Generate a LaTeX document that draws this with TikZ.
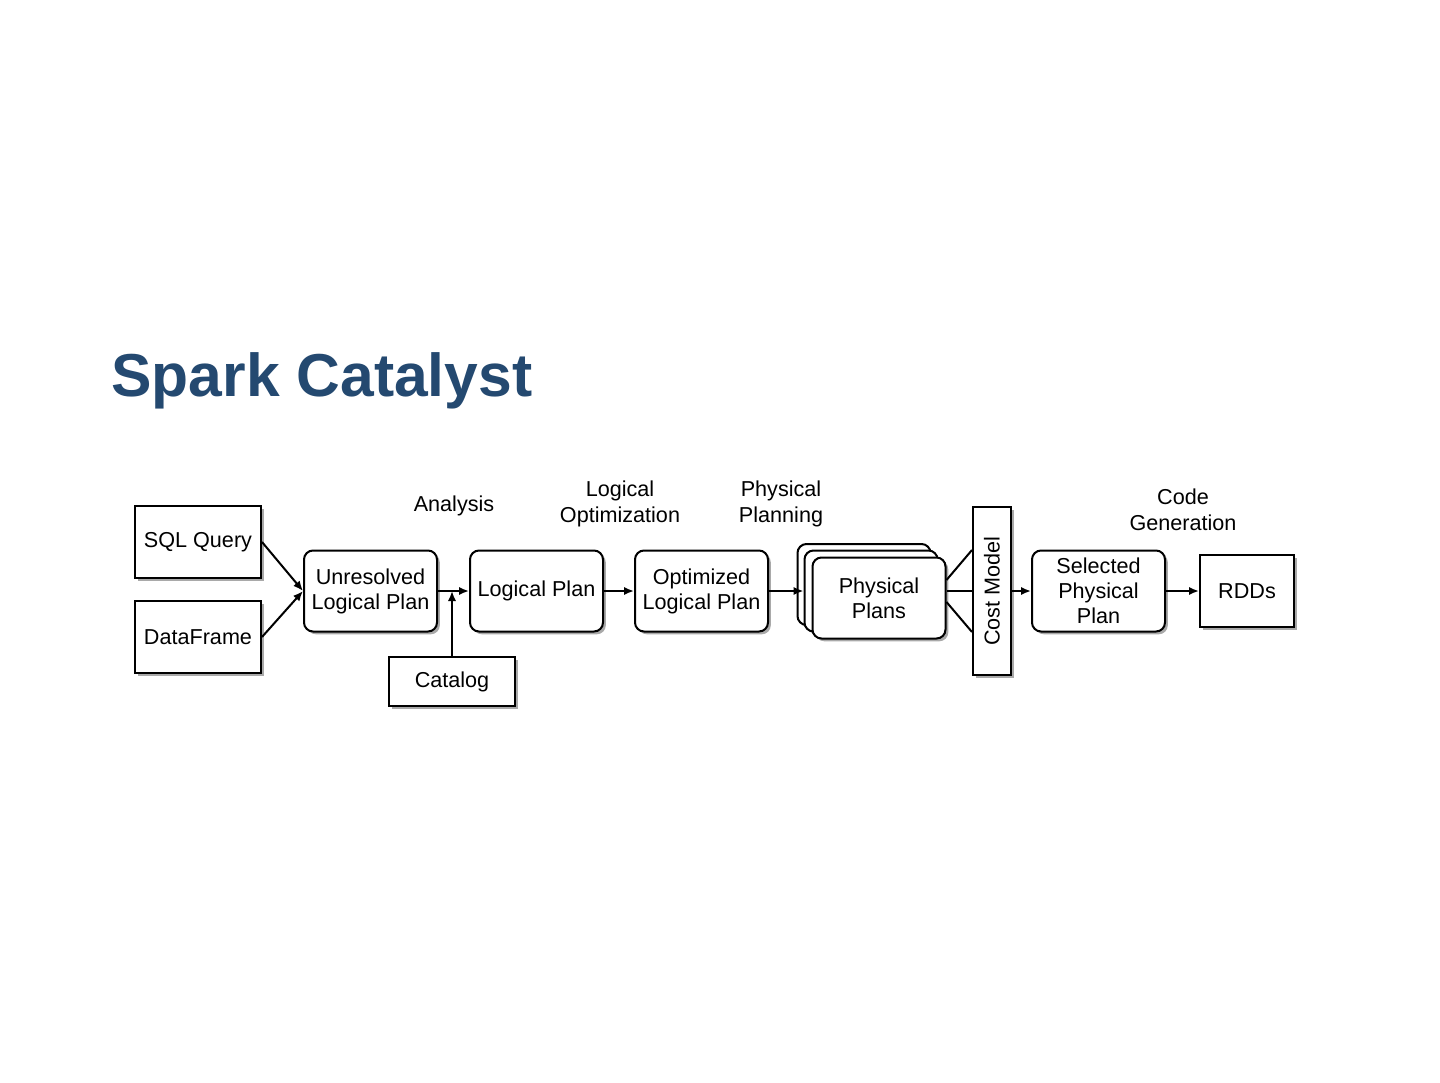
\documentclass[tikz,border=0pt]{standalone}
\usepackage{fontspec}
\setmainfont{Liberation Sans}
\usetikzlibrary{arrows.meta,positioning,shadows,calc}
\definecolor{titleblue}{RGB}{36,73,112}
\definecolor{shadowgray}{RGB}{140,140,140}

\begin{document}
\begin{tikzpicture}[x=0.5pt, y=-0.5pt, font=\fontsize{10.8}{12.5}\selectfont, >={Latex[length=5pt,width=4.2pt]},
  box/.style={draw, line width=1pt, fill=white, align=center, inner sep=0pt,
    drop shadow={shadow xshift=1.4pt, shadow yshift=-1.4pt, fill=shadowgray, opacity=0.75}},
  plan/.style={box, rounded corners=4.5pt, minimum width=66.5pt, minimum height=40.5pt},
  src/.style={box, minimum width=63pt, minimum height=36pt},
  lbl/.style={align=center, font=\fontsize{10.8}{13}\selectfont},
  flow/.style={->, line width=1pt}]
  \useasboundingbox (0,0) rectangle (1440,1082);
  \node[anchor=base west, inner sep=0pt, text=titleblue, font=\fontsize{30.3}{36}\selectfont\bfseries] (title) at (111,396) {Spark Catalyst};
  % inputs
  \node[src] (sql) at (198,542) {SQL Query};
  \node[src] (df) at (198,637) {DataFrame};
  \node[src, minimum height=24.5pt] (cat) at (452,681.5) {Catalog};
  % plans
  \node[plan] (unres) at (370.5,591) {Unresolved\\Logical Plan};
  \node[plan] (lp) at (536.5,591) {Logical Plan};
  \node[plan] (opt) at (701.5,591) {Optimized\\Logical Plan};
  \node[plan] (pp3) at (864,584.5) {};
  \node[plan] (pp2) at (871,591) {};
  \node[plan] (pp) at (879,598) {Physical\\Plans};
  \node[box, minimum width=19pt, minimum height=84pt] (cost) at (992,591) {\rotatebox{90}{Cost Model}};
  \node[plan] (sel) at (1098.5,591) {Selected\\Physical\\Plan};
  \node[src, minimum width=47pt] (rdd) at (1247,591) {RDDs};
  % phase labels
  \node[lbl] (ana) at (454,506) {Analysis};
  \node[lbl] (lopt) at (620,504) {Logical\\Optimization};
  \node[lbl] (pplan) at (781,504) {Physical\\Planning};
  \node[lbl] (cgen) at (1183,510) {Code\\Generation};
  % connectors
  \draw[flow] (sql.east) -- (unres.west);
  \draw[flow] (df.east) -- (unres.west);
  \draw[flow] (unres) -- (lp);
  \draw[flow] (cat.north) -- (cat.north |- unres.east);
  \draw[flow] (lp) -- (opt);
  \draw[flow] (opt) -- (pp2.west);
  \draw[line width=1pt] ($(pp.east)+(0,-18)$) -- ($(cost.west)+(0,-41)$);
  \draw[line width=1pt] ($(pp.east)+(0,-7)$) -- (cost.west);
  \draw[line width=1pt] ($(pp.east)+(0,4)$) -- ($(cost.west)+(0,41)$);
  \draw[flow] (cost) -- (sel);
  \draw[flow] (sel) -- (rdd);
\end{tikzpicture}
\end{document}
